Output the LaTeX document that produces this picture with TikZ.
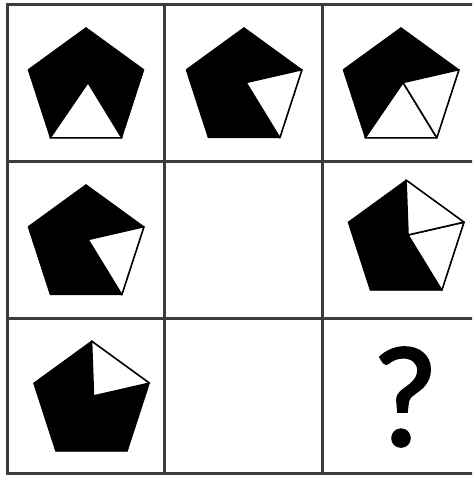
\documentclass[tikz,border=0pt]{standalone}
\usepackage{fontspec}
\newfontfamily\qmarkfont[FakeBold=1.6]{Carlito}
\usetikzlibrary{calc}
\definecolor{gridgray}{RGB}{60,60,60}

%% pentagon #1 with centre (#2,#3), corners #1-0 (top) to #1-4, inner point #1-m
\newcommand{\pentagon}[3]{%
  \coordinate (#1) at (#2,#3);
  \foreach \k in {0,...,4}
    \coordinate (#1-\k) at ($(#1)+(90+72*\k:61)$);
  \coordinate (#1-m) at ($(#1)+(2,6)$);
  \filldraw[pentfill] (#1-0) -- (#1-1) -- (#1-2) -- (#1-3) -- (#1-4) -- cycle;
}

\begin{document}
\begin{tikzpicture}[x=1pt, y=1pt,
  gridline/.style={draw=gridgray, line width=3pt},
  pentfill/.style={fill=black, draw=black, line width=0.6pt, line join=round},
  whitetri/.style={fill=white, draw=black, line width=1.6pt, line join=round}]
  \useasboundingbox (0,0) rectangle (472,478);
  \clip (0,0) rectangle (472,478);

  %% Grid
  \draw[gridline] (7,4) rectangle (479,473);
  \foreach \gx in {164,322} \draw[gridline] (\gx,4) -- (\gx,473);
  \foreach \gy in {159,316} \draw[gridline] (7,\gy) -- (479,\gy);

  %% Row 1
  \pentagon{a}{86}{389.5}
  \filldraw[whitetri] (a-m) -- (a-2) -- (a-3) -- cycle;
  \pentagon{b}{244}{389.5}
  \filldraw[whitetri] (b-m) -- (b-3) -- (b-4) -- cycle;
  \pentagon{c}{401}{389.5}
  \filldraw[whitetri] (c-m) -- (c-2) -- (c-3) -- cycle;
  \filldraw[whitetri] (c-m) -- (c-3) -- (c-4) -- cycle;

  %% Row 2
  \pentagon{d}{86}{232.5}
  \filldraw[whitetri] (d-m) -- (d-3) -- (d-4) -- cycle;
  \pentagon{f}{406}{237}
  \filldraw[whitetri] (f-m) -- (f-3) -- (f-4) -- cycle;
  \filldraw[whitetri] (f-m) -- (f-4) -- (f-0) -- cycle;

  %% Row 3
  \pentagon{g}{91.5}{76}
  \filldraw[whitetri] (g-m) -- (g-4) -- (g-0) -- cycle;
  \node[inner sep=0pt, font=\qmarkfont\fontsize{144}{144}\selectfont] (qmark) at (405,81) {?};
\end{tikzpicture}
\end{document}
